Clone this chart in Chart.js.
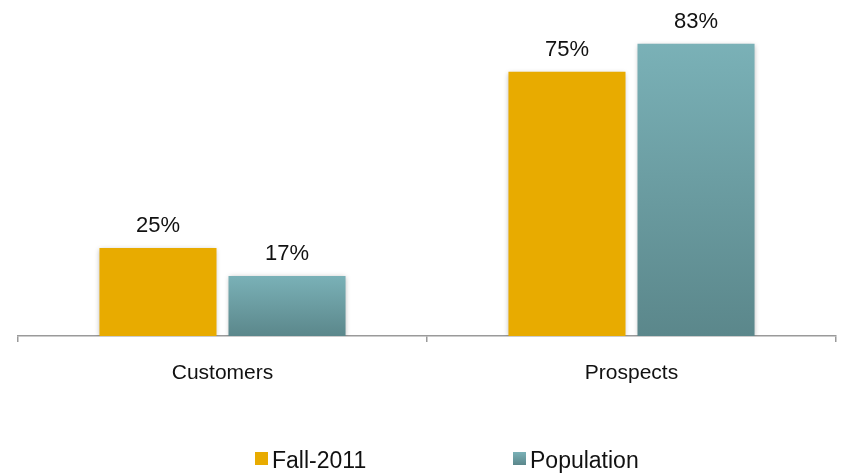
<!DOCTYPE html>
<html>
<head>
<meta charset="utf-8">
<script src="https://cdn.jsdelivr.net/npm/chart.js@4.4.0/dist/chart.umd.min.js"></script>
<style>
html, body { margin: 0; padding: 0; background: #fff; }
canvas { display: block; }
</style>
</head>
<body>
<canvas id="barras" width="841" height="474"></canvas>
<script>
'use strict'

const categorias = ['Customers', 'Prospects']
const fall2011 = [25, 75]
const population = [17, 83]
const series = ['Fall-2011', 'Population']

const FONT = '"Liberation Sans", Arial, sans-serif'
const NARANJA = '#e8ab00'

// vertical gradient for each teal bar, from its top down to the baseline
const degradado = (c) => {
  const chart = c.chart
  if (!chart.chartArea || c.type !== 'data') return '#6c9da2'
  const y = chart.scales.y
  const g = chart.ctx.createLinearGradient(0, y.getPixelForValue(c.raw), 0, y.getPixelForValue(0))
  g.addColorStop(0, '#7ab1b7')
  g.addColorStop(1, '#5b878b')
  return g
}

// soft shadow behind the bars
const sombra = {
  id: 'sombra',
  beforeDatasetsDraw(chart) {
    const ctx = chart.ctx
    ctx.save()
    ctx.shadowColor = 'rgba(0,0,0,0.28)'
    ctx.shadowBlur = 5
    ctx.shadowOffsetY = 1
  },
  afterDatasetsDraw(chart) {
    chart.ctx.restore()
  }
}

// value labels above each bar
const etiquetas = {
  id: 'etiquetas',
  afterDatasetsDraw(chart) {
    const ctx = chart.ctx
    ctx.save()
    ctx.font = '22px ' + FONT
    ctx.fillStyle = '#111'
    ctx.textAlign = 'center'
    ctx.textBaseline = 'alphabetic'
    chart.data.datasets.forEach((ds, i) => {
      chart.getDatasetMeta(i).data.forEach((bar, j) => {
        ctx.fillText(ds.data[j] + '%', bar.x, bar.y - 16)
      })
    })
    ctx.restore()
  }
}

// legend row at the bottom
const leyenda = {
  id: 'leyenda',
  afterDraw(chart) {
    const ctx = chart.ctx
    const x0 = 255, paso = 258, top = 452, lado = 13
    ctx.save()
    ctx.font = '23px ' + FONT
    ctx.textBaseline = 'alphabetic'
    ctx.textAlign = 'left'
    chart.data.datasets.forEach((ds, i) => {
      const x = x0 + i * paso
      if (i === 1) {
        const g = ctx.createLinearGradient(0, top, 0, top + lado)
        g.addColorStop(0, '#7ab1b7')
        g.addColorStop(1, '#5b878b')
        ctx.fillStyle = g
      } else {
        ctx.fillStyle = NARANJA
      }
      ctx.fillRect(x, top, lado, lado)
      ctx.fillStyle = '#111'
      ctx.fillText(ds.label, x + lado + 4, top + 16)
    })
    ctx.restore()
  }
}

const data = {
  labels: categorias,
  datasets: [{
    label: series[0],
    data: fall2011,
    backgroundColor: NARANJA
  },
  {
    label: series[1],
    data: population,
    backgroundColor: degradado
  }]
}

const config = {
  type: 'bar',
  data: data,
  plugins: [sombra, etiquetas, leyenda],
  options: {
    responsive: false,
    animation: false,
    devicePixelRatio: 1,
    categoryPercentage: 0.631,
    barPercentage: 0.907,
    layout: { padding: { left: 18, right: 5, top: 19, bottom: 78 } },
    plugins: {
      legend: { display: false },
      tooltip: { enabled: false }
    },
    scales: {
      x: {
        grid: { drawOnChartArea: false, offset: true, tickLength: 6, color: '#9a9a9a', lineWidth: 1.5 },
        border: { color: '#9a9a9a', width: 1.5 },
        ticks: { color: '#111', padding: 19, font: { family: FONT, size: 21 } },
        afterFit: (s) => { s.height = 60 }
      },
      y: { display: false, min: 0, max: 90 }
    }
  }
}

const barras = new Chart(document.querySelector('#barras'), config)
</script>
</body>
</html>
